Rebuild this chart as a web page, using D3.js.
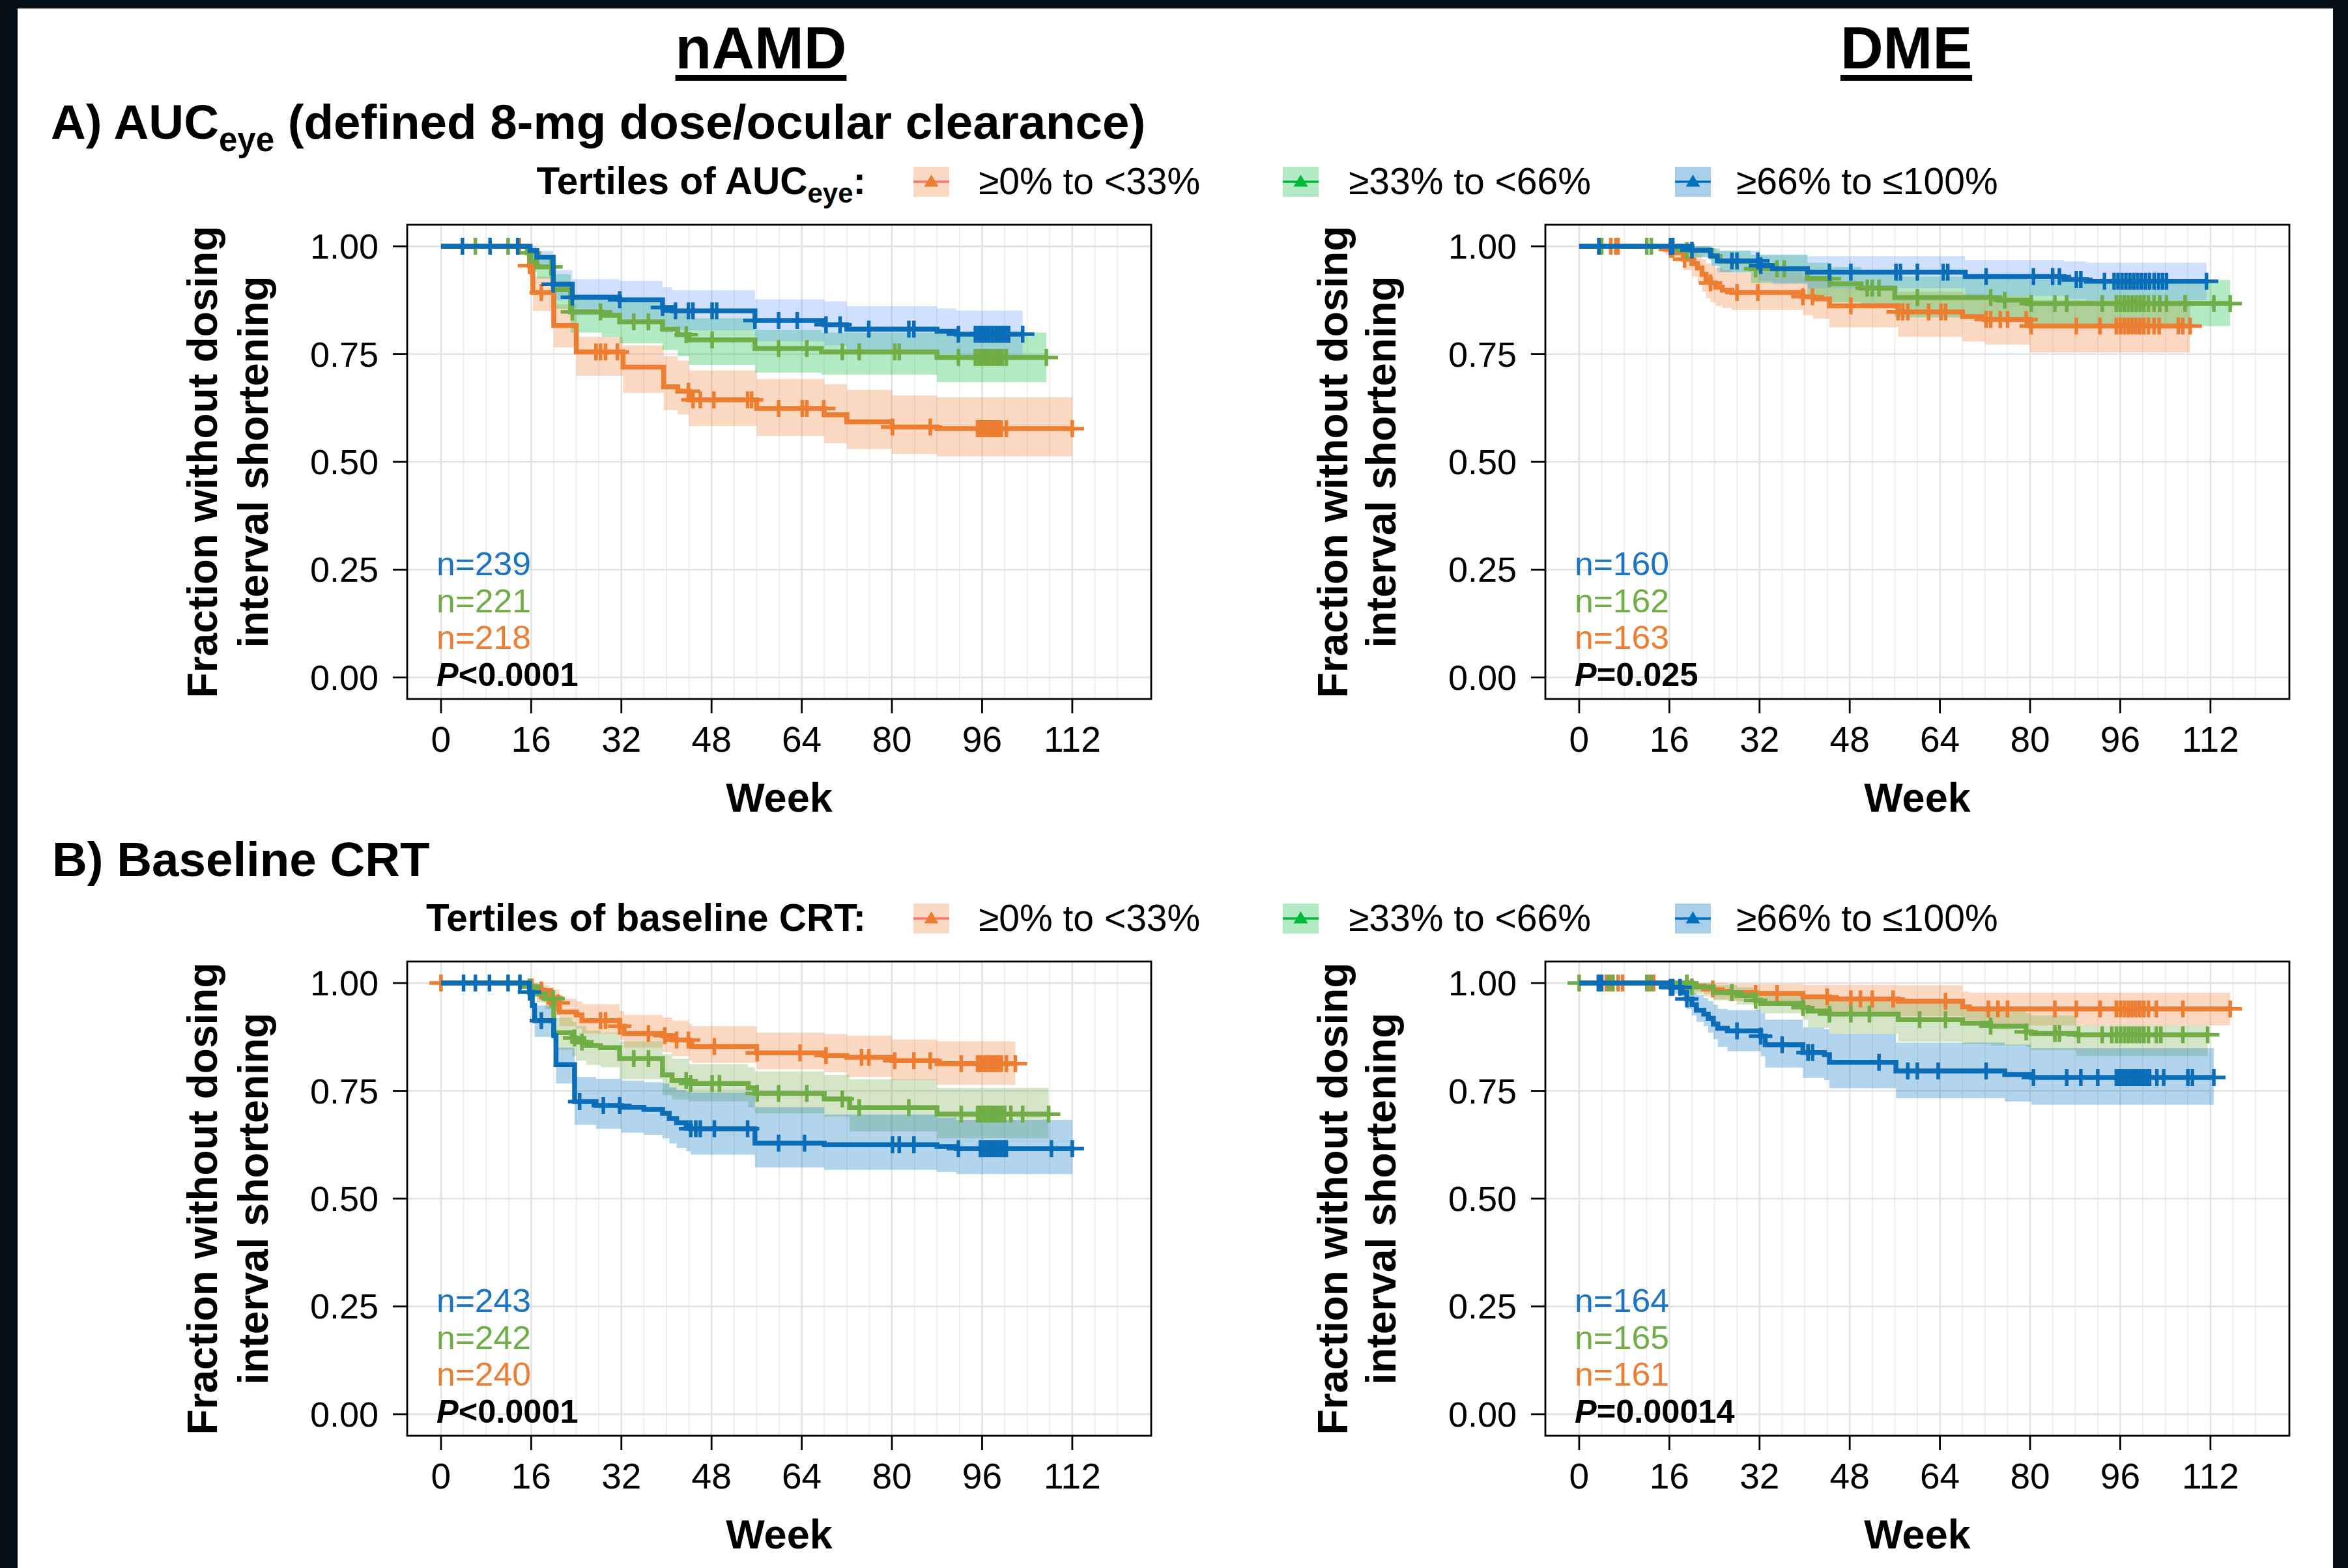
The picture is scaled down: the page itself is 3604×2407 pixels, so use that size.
<!DOCTYPE html>
<html lang="en">
<head>
<meta charset="UTF-8">
<title>Fraction without dosing interval shortening by tertile</title>
<script src="https://cdn.jsdelivr.net/npm/d3@7/dist/d3.min.js"></script>
<style>
  html, body { margin: 0; padding: 0; background: #040e17; }
  svg { display: block; }
  text { font-family: "Liberation Sans", Arial, sans-serif; }
</style>
</head>
<body>
<svg id="chart" width="3604" height="2407"></svg>
<script>
// ---- data ----
const weekTicks = [0, 16, 32, 48, 64, 80, 96, 112];
const fracTicks = [0, 0.25, 0.5, 0.75, 1];
const tertileLabels = ["≥0% to <33%", "≥33% to <66%", "≥66% to ≤100%"];

// step rows: [week, fraction, lower CI, upper CI]
const aNamdLow = [[0,1,1,1],[15.7,0.955,0.925,0.985],[16.3,0.893,0.85,0.93],[20,0.816,0.765,0.865],[24,0.755,0.7,0.79],[32.3,0.72,0.66,0.77],[39.5,0.674,0.62,0.745],[42,0.664,0.61,0.735],[44,0.644,0.583,0.712],[56,0.624,0.56,0.692],[68,0.609,0.543,0.68],[72,0.593,0.53,0.667],[80,0.581,0.518,0.654],[88,0.577,0.513,0.65],[112,0.577,0.513,0.65]];
const aNamdMid = [[0,1,1,1],[15.3,0.985,0.97,1],[16,0.965,0.94,0.985],[17,0.952,0.925,0.975],[19.9,0.9,0.855,0.935],[23,0.848,0.8,0.885],[28.5,0.84,0.79,0.88],[31.7,0.825,0.775,0.876],[39.3,0.808,0.76,0.86],[42,0.795,0.745,0.845],[44,0.783,0.725,0.833],[55.7,0.763,0.707,0.806],[67.5,0.755,0.702,0.8],[88,0.742,0.685,0.8],[107.4,0.742,0.685,0.8]];
const aNamdHigh = [[0,1,1,1],[15.8,0.99,0.975,1],[17,0.975,0.955,0.99],[19.9,0.912,0.875,0.945],[23.3,0.882,0.84,0.924],[31.7,0.876,0.832,0.92],[39.3,0.858,0.815,0.905],[41,0.85,0.805,0.898],[55.7,0.828,0.78,0.877],[68,0.818,0.77,0.872],[72,0.808,0.757,0.861],[88,0.803,0.752,0.856],[91.4,0.796,0.747,0.851],[103.2,0.796,0.747,0.851]];
const aNamdLowCens = [13.9,15.7,17.8,27.5,28.3,29.2,31.3,43.9,44.7,46,48.4,54.4,55.1,59.9,64.1,64.9,67.9,80.1,86.8,95.2,95.8,96.4,97,97.6,98.2,98.8,99.4,100.3,112];
const aNamdMidCens = [6.1,11.9,15.7,19.5,23.3,28.3,34.2,36.8,43.5,48.1,59.9,64.9,71.2,74.2,80.5,81.3,91.8,94.8,95.4,96,96.6,97.2,97.8,98.4,99,99.6,100.3,107.4];
const aNamdHighCens = [3.8,8.7,13.6,19.9,23.3,31.7,39.3,41.6,43.9,44.7,48.1,48.9,55.7,59.9,63.2,68.3,70.8,75.9,83,83.9,91.8,94.8,95.4,96,96.6,97.2,97.8,98.4,99,99.6,100.2,100.7,103.2];

const aDmeLow = [[0,1,1,1],[15.3,0.993,0.98,1],[17,0.985,0.965,1],[18.5,0.97,0.945,0.99],[20,0.96,0.93,0.985],[21,0.95,0.915,0.98],[21.8,0.935,0.895,0.97],[22.5,0.923,0.88,0.96],[23.3,0.915,0.87,0.955],[24.2,0.905,0.862,0.95],[25.4,0.898,0.857,0.945],[27.1,0.893,0.852,0.94],[39.7,0.883,0.84,0.93],[41.5,0.878,0.832,0.925],[44.4,0.862,0.812,0.905],[56.6,0.848,0.79,0.895],[68,0.837,0.779,0.89],[72,0.83,0.772,0.885],[80,0.815,0.754,0.875],[108.4,0.815,0.754,0.875]];
const aDmeMid = [[0,1,1,1],[18.7,0.99,0.975,1],[23.5,0.976,0.955,0.995],[25,0.965,0.94,0.99],[30.5,0.948,0.915,0.98],[40.5,0.925,0.885,0.962],[44.5,0.913,0.87,0.952],[50,0.903,0.86,0.945],[56,0.881,0.835,0.93],[74.5,0.875,0.828,0.926],[79.5,0.867,0.815,0.922],[115.5,0.867,0.815,0.922]];
const aDmeHigh = [[0,1,1,1],[20,0.991,0.975,1],[23.3,0.978,0.955,0.995],[24.5,0.966,0.94,0.99],[32,0.955,0.92,0.981],[34.3,0.948,0.912,0.981],[40.5,0.94,0.903,0.977],[68.5,0.93,0.885,0.968],[86,0.923,0.878,0.965],[90,0.919,0.875,0.962],[111.3,0.919,0.875,0.962]];
const aDmeLowCens = [5.6,6.5,6.9,16.2,16.6,18.7,23.3,28,31.7,39.7,41.4,48.2,56.6,57.4,58.3,62,64.2,65,72.2,73,74.7,76,79.3,80.2,88.2,92.4,95.3,96,96.7,97.4,98.1,98.8,99.5,100.2,101,102,102.9,106.3,107.1,108.4];
const aDmeMidCens = [3.5,4,12,12.8,19.1,31.3,35.1,36.4,44.4,51.1,52,53.2,60,73,75.5,80.2,84.4,86.5,92.8,95.3,96,96.7,97.4,98.1,98.8,99.5,100.2,101,102,103,104.2,107.5,112.6,115.5];
const aDmeHighCens = [3.5,16.2,16.6,20,27.1,28,31.7,32.2,44.4,48.2,56.2,57,60,64.6,65.4,72.2,80.6,84,85.2,88.2,89,93.2,94.9,95.6,96.3,97,97.7,98.4,99.1,99.8,100.5,101.2,102,102.8,103.5,104.2,111.3];

const bNamdLow = [[0,1,1,1],[15.7,0.991,0.975,1],[17,0.984,0.965,1],[18.3,0.979,0.955,0.995],[19.1,0.966,0.94,0.99],[20,0.954,0.925,0.985],[21,0.933,0.9,0.964],[24,0.926,0.895,0.958],[25,0.913,0.883,0.951],[31.7,0.9,0.868,0.935],[32.5,0.883,0.85,0.926],[39.3,0.878,0.84,0.92],[41,0.868,0.83,0.913],[44,0.858,0.82,0.906],[44.5,0.853,0.815,0.9],[56,0.838,0.8,0.885],[68,0.832,0.793,0.882],[72,0.828,0.782,0.878],[80,0.82,0.775,0.869],[88,0.813,0.764,0.865],[101.9,0.813,0.764,0.865]];
const bNamdMid = [[0,1,1,1],[15.7,0.991,0.975,1],[17,0.975,0.955,0.99],[18.5,0.964,0.94,0.985],[20,0.885,0.845,0.92],[23.3,0.873,0.83,0.91],[24,0.863,0.82,0.9],[25.8,0.855,0.81,0.89],[28.3,0.85,0.805,0.885],[31.7,0.825,0.777,0.865],[39.3,0.787,0.74,0.835],[41,0.774,0.73,0.825],[44,0.767,0.726,0.812],[54.5,0.757,0.712,0.805],[55.7,0.744,0.698,0.795],[68,0.731,0.69,0.787],[72.5,0.711,0.656,0.777],[88,0.696,0.64,0.757],[107.8,0.696,0.64,0.757]];
const bNamdHigh = [[0,1,1,1],[15.7,0.979,0.96,0.995],[16.2,0.948,0.92,0.975],[16.6,0.913,0.875,0.948],[20,0.878,0.84,0.91],[20.4,0.811,0.767,0.85],[23.7,0.725,0.671,0.782],[27.5,0.716,0.662,0.778],[32,0.712,0.653,0.774],[36,0.707,0.648,0.77],[39.3,0.698,0.64,0.767],[40.5,0.686,0.628,0.758],[41.8,0.676,0.618,0.752],[43.5,0.668,0.61,0.748],[44.3,0.662,0.602,0.746],[55.7,0.629,0.572,0.712],[68,0.625,0.567,0.695],[88,0.621,0.562,0.688],[91.4,0.616,0.557,0.683],[112,0.616,0.557,0.683]];
const bNamdLowCens = [0,16.1,17.8,19.5,20.8,28.3,29.2,31.7,36.8,39.7,41.8,43.9,48.5,56.1,63.7,68.3,74.6,75.9,80.5,83.9,86.8,92.3,95.2,95.8,96.4,97,97.6,98.2,98.8,99.4,100.3,101.9];
const bNamdMidCens = [15.7,19.9,23.7,25,34.2,36.8,43.5,44.3,48.1,49.4,56.1,59.9,64.9,71.2,74.2,83,92.3,95.2,95.8,96.4,97,97.6,98.2,98.8,99.4,100,101.1,103.2,107.8];
const bNamdHighCens = [4,6.1,8.6,11.9,14,15.7,17.8,24.6,28.8,31.7,44.3,45.2,46,48.5,54.4,59.9,64.5,80.1,81.3,83.9,91.8,95.7,96.3,96.9,97.5,98.1,98.7,99.3,99.9,100.3,108.3,112];

const bDmeLow = [[0,1,1,1],[20,0.993,0.98,1],[22.1,0.986,0.97,1],[23.8,0.981,0.962,1],[26.3,0.978,0.958,0.998],[31.3,0.976,0.953,0.998],[39.7,0.968,0.94,0.996],[44.4,0.963,0.93,0.996],[56.6,0.958,0.923,0.995],[68,0.945,0.912,0.98],[69.2,0.94,0.902,0.978],[115.5,0.94,0.902,0.978]];
const bDmeMid = [[0,1,1,1],[19.5,0.991,0.975,1],[23.8,0.978,0.96,0.995],[28,0.971,0.95,0.99],[31.3,0.96,0.935,0.985],[32.2,0.953,0.93,0.98],[39.7,0.943,0.915,0.972],[40.6,0.935,0.897,0.968],[44.4,0.928,0.882,0.962],[56.6,0.915,0.864,0.953],[68,0.907,0.859,0.945],[73,0.9,0.855,0.94],[79.3,0.887,0.852,0.93],[80.2,0.883,0.845,0.925],[88.2,0.88,0.831,0.902],[111.5,0.88,0.831,0.902]];
const bDmeHigh = [[0,1,1,1],[16.2,0.99,0.975,1],[18.3,0.978,0.96,0.995],[19.1,0.963,0.94,0.985],[20,0.95,0.925,0.978],[20.8,0.937,0.91,0.973],[22.1,0.928,0.9,0.965],[22.9,0.918,0.885,0.958],[23.8,0.905,0.87,0.95],[24.6,0.895,0.852,0.94],[26.3,0.889,0.842,0.937],[32.2,0.877,0.83,0.93],[33,0.857,0.804,0.915],[39.7,0.839,0.78,0.897],[43.5,0.834,0.775,0.893],[44.4,0.816,0.756,0.882],[56.2,0.796,0.733,0.862],[75.5,0.788,0.725,0.857],[80.2,0.781,0.718,0.849],[112.6,0.781,0.718,0.849]];
const bDmeLowCens = [4.8,5.6,6.9,7.7,12.4,13.2,19.1,23.7,27.1,31.3,35.1,44,48.2,49.9,52,55.7,65,72.6,74.3,76,84.4,88.2,92.4,95.3,96,96.7,97.4,98.1,98.8,99.5,100.2,101,102.4,107.1,115.5];
const bDmeMidCens = [0,5.2,6,12,12.8,19.1,20,27.1,31.3,39.7,44.4,48.2,51.5,60.4,65,73,79.3,84.4,85.2,88.6,92.8,94.5,95.3,96,96.7,97.4,98.1,98.8,99.5,100.2,101,102.4,103.2,107.1,111.5];
const bDmeHighCens = [3.4,3.7,4,16.2,16.6,17.9,19.1,28,32.2,36,40.6,41.4,53.2,58.3,60,63.7,72.2,80.6,86.5,89,92,95.3,95.9,96.5,97.1,97.7,98.3,98.9,99.5,100.1,100.7,101.2,102.5,103.7,108,108.8,112.6];

// n per group (low, mid, high) and log-rank P
const aNamdN = [218, 221, 239], aDmeN = [163, 162, 160];
const bNamdN = [240, 242, 243], bDmeN = [161, 165, 164];
const pTexts = ["<0.0001", "=0.025", "<0.0001", "=0.00014"];

// ---- styling ----
const lineColors = ["#ED7D31", "#70AD47", "#0B6DB7"];
const nColors = ["#ED7D31", "#70AD47", "#1A74C2"];
const bandA = ["#ED7D31", "#00BA38", "#619CFF"];
const bandB = ["#ED7D31", "#70AD47", "#0070C0"];

const svg = d3.select("#chart");
svg.append("rect").attr("x", 27).attr("y", 13).attr("width", 3581 - 27).attr("height", 2407 - 13).attr("fill", "#fff");

const panels = [
  { x0: 625, x1: 1767, y0: 345, y1: 1073, curves: [aNamdLow, aNamdMid, aNamdHigh], cens: [aNamdLowCens, aNamdMidCens, aNamdHighCens], n: aNamdN, p: pTexts[0], band: bandA, titleOff: [-292, -214] },
  { x0: 2372, x1: 3514, y0: 345, y1: 1073, curves: [aDmeLow, aDmeMid, aDmeHigh], cens: [aDmeLowCens, aDmeMidCens, aDmeHighCens], n: aDmeN, p: pTexts[1], band: bandA, titleOff: [-304, -230] },
  { x0: 625, x1: 1767, y0: 1476, y1: 2204, curves: [bNamdLow, bNamdMid, bNamdHigh], cens: [bNamdLowCens, bNamdMidCens, bNamdHighCens], n: bNamdN, p: pTexts[2], band: bandB, titleOff: [-292, -214] },
  { x0: 2372, x1: 3514, y0: 1476, y1: 2204, curves: [bDmeLow, bDmeMid, bDmeHigh], cens: [bDmeLowCens, bDmeMidCens, bDmeHighCens], n: bDmeN, p: pTexts[3], band: bandB, titleOff: [-304, -230] }
];

function valueAt(rows, t) {
  let v = rows[0][1];
  for (const r of rows) { if (r[0] <= t) v = r[1]; }
  return v;
}

function drawPanel(p) {
  const x = d3.scaleLinear().domain([-6, 126]).range([p.x0, p.x1]);
  const y = d3.scaleLinear().domain([-0.05, 1.05]).range([p.y1, p.y0]);
  const g = svg.append("g");

  // grid
  g.selectAll(".vg").data(d3.range(0, 121, 4)).join("line")
    .attr("x1", d => x(d)).attr("x2", d => x(d)).attr("y1", p.y0).attr("y2", p.y1)
    .attr("stroke", d => d % 16 === 0 ? "#e2e2e2" : "#eeeeee")
    .attr("stroke-width", d => d % 16 === 0 ? 2.6 : 2);
  g.selectAll(".hg").data(fracTicks).join("line")
    .attr("x1", p.x0).attr("x2", p.x1).attr("y1", d => y(d)).attr("y2", d => y(d))
    .attr("stroke", "#e2e2e2").attr("stroke-width", 2.6);

  // confidence bands
  const area = d3.area().curve(d3.curveStepAfter)
    .x(d => x(d[0])).y0(d => y(d[2])).y1(d => y(d[3]));
  p.curves.forEach((c, i) => {
    g.append("path").attr("d", area(c)).attr("fill", p.band[i]).attr("fill-opacity", 0.3);
  });

  // KM lines + censor marks
  const line = d3.line().curve(d3.curveStepAfter).x(d => x(d[0])).y(d => y(d[1]));
  p.curves.forEach((c, i) => {
    g.append("path").attr("d", line(c)).attr("fill", "none")
      .attr("stroke", lineColors[i]).attr("stroke-width", 7.5);
    g.append("g").selectAll("path").data(p.cens[i]).join("path")
      .attr("d", t => {
        const cx = x(t), cy = y(valueAt(c, t));
        return `M${cx - 18},${cy}H${cx + 18}M${cx},${cy - 13}V${cy + 13}`;
      })
      .attr("stroke", lineColors[i]).attr("stroke-width", 5.5).attr("fill", "none");
  });

  // box
  g.append("rect").attr("x", p.x0).attr("y", p.y0)
    .attr("width", p.x1 - p.x0).attr("height", p.y1 - p.y0)
    .attr("fill", "none").attr("stroke", "#000").attr("stroke-width", 2.8);

  // y axis
  fracTicks.forEach(v => {
    g.append("line").attr("x1", p.x0 - 22).attr("x2", p.x0).attr("y1", y(v)).attr("y2", y(v))
      .attr("stroke", "#000").attr("stroke-width", 2.8);
    g.append("text").attr("x", p.x0 - 44).attr("y", y(v) + 19).attr("text-anchor", "end")
      .attr("font-size", 54).text(v.toFixed(2));
  });
  // x axis
  weekTicks.forEach(v => {
    g.append("line").attr("x1", x(v)).attr("x2", x(v)).attr("y1", p.y1).attr("y2", p.y1 + 22)
      .attr("stroke", "#000").attr("stroke-width", 2.8);
    g.append("text").attr("x", x(v)).attr("y", p.y1 + 81).attr("text-anchor", "middle")
      .attr("font-size", 55).text(v);
  });
  g.append("text").attr("x", (p.x0 + p.x1) / 2).attr("y", p.y1 + 173).attr("text-anchor", "middle")
    .attr("font-size", 63).attr("font-weight", "bold").text("Week");

  // y title (two lines)
  const cy = (p.y0 + p.y1) / 2;
  [["Fraction without dosing", 725], ["interval shortening", 571]].forEach(([txt, len], k) => {
    g.append("text")
      .attr("transform", `translate(${p.x0 + p.titleOff[k]},${cy}) rotate(-90)`)
      .attr("text-anchor", "middle").attr("font-size", 64).attr("font-weight", "bold")
      .attr("textLength", len).attr("lengthAdjust", "spacing")
      .text(txt);
  });

  // n labels and P (stacked tightly, kept just clear of each other)
  const tx = x(-0.8), pY = y(0) + 13, step = 56.5;
  [2, 1, 0].forEach((i, k) => {
    g.append("text").attr("x", tx).attr("y", pY - (3 - k) * step)
      .attr("font-size", 50.5).attr("fill", nColors[i])
      .attr("textLength", 158 * 50.5 / 55).attr("lengthAdjust", "spacingAndGlyphs")
      .text("n=" + p.n[i]);
  });
  const pt = g.append("text").attr("x", tx).attr("y", pY).attr("font-size", 50.5).attr("font-weight", "bold");
  pt.append("tspan").attr("font-style", "italic").text("P");
  pt.append("tspan").text(p.p);
}

panels.forEach(drawPanel);

// ---- headings ----
function heading(txt, cx) {
  const t = svg.append("text").attr("x", cx).attr("y", 105).attr("text-anchor", "middle")
    .attr("font-size", 91).attr("font-weight", "bold").text(txt);
  const w = t.node().getComputedTextLength();
  svg.append("rect").attr("x", cx - w / 2).attr("y", 115).attr("width", w).attr("height", 9).attr("fill", "#000");
}
heading("nAMD", 1168);
heading("DME", 2926);

const tA = svg.append("text").attr("x", 78).attr("y", 213).attr("font-size", 74.5).attr("font-weight", "bold");
tA.append("tspan").text("A) AUC");
tA.append("tspan").attr("font-size", 51).attr("dy", 19).text("eye");
tA.append("tspan").attr("dy", -19).text(" (defined 8-mg dose/ocular clearance)");

svg.append("text").attr("x", 80).attr("y", 1345).attr("font-size", 74.5).attr("font-weight", "bold")
  .text("B) Baseline CRT");

// ---- legends ----
const keyX = [1402, 1969, 2571], labelX = [1502, 2070, 2665];
const keyFill = ["#ED7D31", "#00BA38", "#0070C0"];
const keyLine = ["#F8766D", "#00BA38", "#0070C0"];
const keyMark = ["#ED7D31", "#00BA38", "#0070C0"];

function legend(cy, titleFn) {
  const g = svg.append("g");
  const t = g.append("text").attr("x", 1329).attr("y", cy + 19).attr("text-anchor", "end")
    .attr("font-size", 58.5).attr("font-weight", "bold");
  titleFn(t);
  tertileLabels.forEach((lab, i) => {
    g.append("rect").attr("x", keyX[i]).attr("y", cy - 23).attr("width", 55).attr("height", 46)
      .attr("fill", keyFill[i]).attr("fill-opacity", i === 2 ? 0.34 : 0.3);
    g.append("line").attr("x1", keyX[i]).attr("x2", keyX[i] + 55).attr("y1", cy).attr("y2", cy)
      .attr("stroke", keyLine[i]).attr("stroke-width", 3.4);
    const mx = keyX[i] + 27.5;
    g.append("path").attr("d", `M${mx},${cy - 11}L${mx + 11},${cy + 7.5}L${mx - 11},${cy + 7.5}Z`)
      .attr("fill", keyMark[i]);
    g.append("text").attr("x", labelX[i]).attr("y", cy + 19).attr("font-size", 57).text(lab);
  });
}
legend(279, t => {
  t.append("tspan").text("Tertiles of AUC");
  t.append("tspan").attr("font-size", 42).attr("dy", 13).text("eye");
  t.append("tspan").attr("dy", -13).text(":");
});
legend(1410, t => t.text("Tertiles of baseline CRT:"));
</script>
</body>
</html>
